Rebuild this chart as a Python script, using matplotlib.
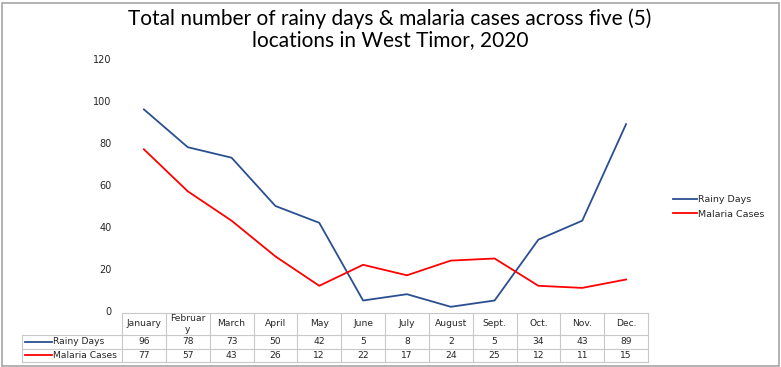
import matplotlib
matplotlib.use("Agg")
import matplotlib.pyplot as plt
import matplotlib.transforms as mtransforms
from matplotlib.patches import Rectangle
from matplotlib.lines import Line2D

months = ["January", "Februar\ny", "March", "April", "May", "June", "July",
          "August", "Sept.", "Oct.", "Nov.", "Dec."]
rainy_days = [96, 78, 73, 50, 42, 5, 8, 2, 5, 34, 43, 89]
malaria_cases = [77, 57, 43, 26, 12, 22, 17, 24, 25, 12, 11, 15]
series_names = ["Rainy Days", "Malaria Cases"]
yticks = [0, 20, 40, 60, 80, 100, 120]
title = "Total number of rainy days & malaria cases across five (5)\nlocations in West Timor, 2020"

blue = "#2a4f91"
red = "#ff0000"
grid_c = "#c8c8c8"
txt_c = "#262626"
W, H = 781, 367
fig = plt.figure(figsize=(W / 100, H / 100), dpi=100)
fig.patch.set_facecolor("white")

left, right, bot, top = 122, 648, 311, 59
ax = fig.add_axes([left / W, 1 - bot / H, (right - left) / W, (bot - top) / H])
x = list(range(len(months)))
l1, = ax.plot(x, rainy_days, color=blue, lw=1.3)
l2, = ax.plot(x, malaria_cases, color=red, lw=1.3)
n = len(months)
ax.set_xlim(-0.5, n - 0.5)
ax.set_ylim(0, 120)
ax.set_yticks(yticks)
ax.set_yticklabels([str(v) for v in yticks], fontsize=7, family="DejaVu Sans", color=txt_c)
ax.tick_params(axis="y", length=0, pad=7.5)
ax.set_xticks([])
for s in ax.spines.values():
    s.set_visible(False)

# ---- data table (x in data units, y in axes fraction)
trans = mtransforms.blended_transform_factory(ax.transData, ax.transAxes)
ph = bot - top
colw = (right - left) / n
def fy(py):
    return (bot - py) / ph
y_top, y_hdr, y_r1, y_r2 = fy(313), fy(335), fy(348.5), fy(362)
lab_left = -0.5 - (left - 22.5) / colw
lw_t = 0.8
def hline(x0, x1, y):
    ax.add_line(Line2D([x0, x1], [y, y], transform=trans, color=grid_c, lw=lw_t, clip_on=False))
def vline(xx, y0, y1):
    ax.add_line(Line2D([xx, xx], [y0, y1], transform=trans, color=grid_c, lw=lw_t, clip_on=False))
hline(-0.5, n - 0.5, y_top)
for yy in (y_hdr, y_r1, y_r2):
    hline(lab_left, n - 0.5, yy)
for i in range(n + 1):
    vline(i - 0.5, y_top, y_r2)
vline(lab_left, y_hdr, y_r2)

fs = 6.6
for i, m in enumerate(months):
    ax.text(i, (y_top + y_hdr) / 2, m, transform=trans, ha="center", va="center",
            fontsize=fs, family="DejaVu Sans", color=txt_c, linespacing=1.3)
rows = [rainy_days, malaria_cases]
colors = [blue, red]
for r, (vals, name, col) in enumerate(zip(rows, series_names, colors)):
    yc = ((y_hdr + y_r1) / 2) if r == 0 else ((y_r1 + y_r2) / 2)
    for i, v in enumerate(vals):
        ax.text(i, yc, str(v), transform=trans, ha="center", va="center",
                fontsize=fs, family="DejaVu Sans", color=txt_c)
    ax.add_line(Line2D([lab_left + 3 / colw, lab_left + 30 / colw], [yc, yc], transform=trans,
                       color=col, lw=1.3, clip_on=False))
    ax.text(lab_left + 31 / colw, yc, name, transform=trans, ha="left", va="center",
            fontsize=fs, family="DejaVu Sans", color=txt_c)

fig.text(390 / W, 1 - 29 / H, title, ha="center", va="center", fontsize=15,
         family="Lato", color="black", linespacing=1.05)

leg = fig.legend([l1, l2], series_names, loc="center left", bbox_to_anchor=(664 / W, 1 - 207 / H),
                 frameon=False, handlelength=2.6, handletextpad=0.15,
                 labelspacing=0.55, prop={"family": "DejaVu Sans", "size": 6.8})
for t in leg.get_texts():
    t.set_color(txt_c)

fig.add_artist(Rectangle((1.5 / W, 1.5 / H), (W - 4) / W, (H - 4) / H, transform=fig.transFigure,
                         fill=False, edgecolor="#a6a6a6", lw=1.2))
fig.savefig("out.png", dpi=100)
